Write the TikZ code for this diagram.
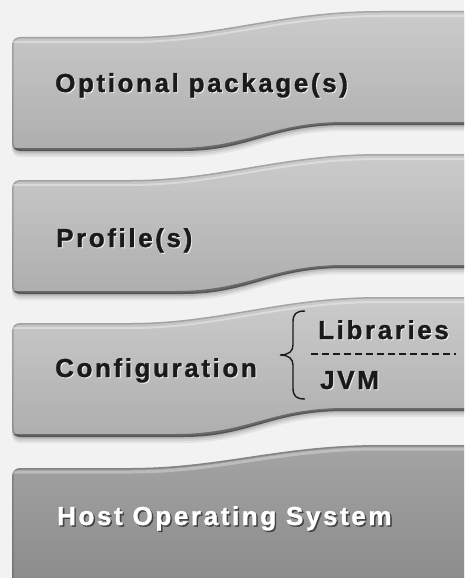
\documentclass[tikz,border=0pt]{standalone}
\usepackage{fontspec}
\newfontfamily\layerfont{Liberation Sans}[LetterSpace=10, BoldFeatures={FakeBold=1.2}]
\definecolor{pagebg}{HTML}{F2F2F2}
\definecolor{slabtop}{HTML}{CBCBCB}
\definecolor{slabbot}{HTML}{AEAEAE}
\definecolor{hosttop}{HTML}{A4A4A4}
\definecolor{hostbot}{HTML}{888888}
\definecolor{inkdark}{HTML}{1A1A1A}

% outline of one wavy layer; #1 is the y of its top-left edge
\newcommand\layeroutline[1]{%
  (175,#1+114) .. controls (250,#1+114) and (270,#1+88) .. (345,#1+88)
  -- (470,#1+88) -- (470,#1-26) -- (380,#1-26)
  .. controls (280,#1-26) and (220,#1) .. (130,#1)
  [rounded corners=8pt] -- (12,#1) -- (12,#1+114) -- cycle}
% bottom rim of the same layer
\newcommand\layerrim[1]{%
  (12,#1+114) -- (175,#1+114) .. controls (250,#1+114) and (270,#1+88) .. (345,#1+88) -- (470,#1+88)}
% outline of the lowest layer, running past the lower edge
\newcommand\baseoutline[1]{%
  (470,600) -- (470,#1-23) -- (380,#1-23)
  .. controls (280,#1-23) and (220,#1) .. (130,#1)
  [rounded corners=8pt] -- (12,#1) -- (12,600) -- cycle}

\begin{document}
\begin{tikzpicture}[x=1pt,y=-1pt,
  layertext/.style={font=\layerfont\bfseries\fontsize{26}{30}\selectfont,
    anchor=base west, inner sep=0pt, text=inkdark},
  glowtext/.style={layertext, text=white, opacity=0.7},
  hosttext/.style={layertext, text=white},
  hostshadow/.style={layertext, text=black!80, opacity=0.8},
  subtext/.style={layertext}]
\useasboundingbox (0,0) rectangle (464,578);
\fill[pagebg] (0,0) rectangle (464,578);
\clip (0,0) rectangle (464,578);

% three light layers
\foreach \t in {37,180,323}{
  % soft drop shadow
  \foreach \s/\o in {2/0.10,4/0.08,6/0.06}{
    \fill[black, opacity=\o, shift={(0,\s)}] \layeroutline{\t};
  }
  \shade[top color=slabtop, bottom color=slabbot] \layeroutline{\t};
  \begin{scope}
    \clip \layeroutline{\t};
    \draw[black, opacity=0.18, line width=3] \layeroutline{\t};
    \draw[black, opacity=0.4, line width=6] \layerrim{\t};
    \draw[white, opacity=0.35, line width=2, shift={(0,5)}] (12,\t) -- (130,\t)
      .. controls (220,\t) and (280,\t-26) .. (380,\t-26) -- (470,\t-26);
  \end{scope}
}

% host layer
\foreach \s/\o in {2/0.10,4/0.08}{
  \fill[black, opacity=\o, shift={(0,\s)}] \baseoutline{468};
}
\shade[top color=hosttop, bottom color=hostbot] \baseoutline{468};
\begin{scope}
  \clip \baseoutline{468};
  \draw[black, opacity=0.18, line width=3] \baseoutline{468};
  \draw[white, opacity=0.3, line width=3, shift={(0,4)}] (12,468) -- (130,468)
    .. controls (220,468) and (280,445) .. (380,445) -- (470,445);
\end{scope}

% layer labels
\node[glowtext] at (56,93) {Optional package(s)};
\node[layertext] (opt) at (55,92) {Optional package(s)};

\node[glowtext] at (57,248) {Profile(s)};
\node[layertext] (prof) at (56,247) {Profile(s)};

\node[glowtext] at (56,378) {Configuration};
\node[layertext] (conf) at (55,377) {Configuration};

\node[glowtext] at (319,340) {Libraries};
\node[subtext] (lib) at (318,339) {Libraries};
\node[glowtext] at (321,390) {JVM};
\node[subtext] (jvm) at (320,389) {JVM};

% divider between the two parts of the configuration
\coordinate (divl) at (311,354);
\coordinate (divr) at (456,354);
\draw[inkdark, line width=1.8, dash pattern=on 7pt off 4pt] (divl) -- (divr);

% brace grouping the two parts
\coordinate (btop) at (305,311);
\coordinate (btip) at (280,355);
\coordinate (bbot) at (305,399);
\draw[inkdark, line width=1.4]
  (btop) .. controls (296,311) and (293,314) .. (293,322)
  -- (293,345) .. controls (293,351) and (289,355) .. (btip)
  .. controls (289,355) and (293,359) .. (293,365)
  -- (293,388) .. controls (293,396) and (296,399) .. (bbot);

\node[hostshadow] at (58.5,526.5) {Host Operating System};
\node[hosttext] (host) at (57,525) {Host Operating System};
\end{tikzpicture}
\end{document}
